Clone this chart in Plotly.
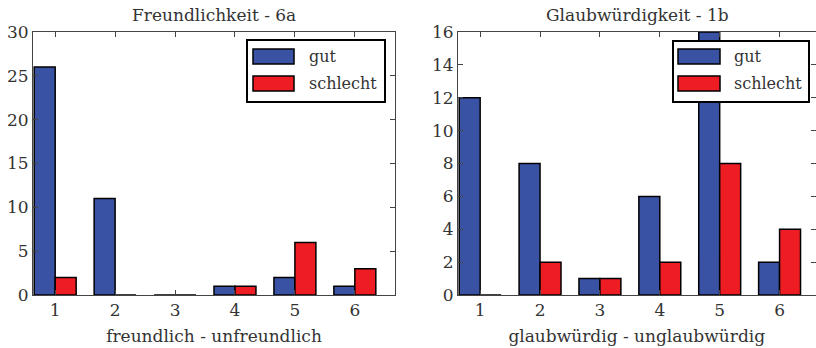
import plotly.graph_objects as go

# ---- data ----
categories = [1, 2, 3, 4, 5, 6]
freund_gut = [26, 11, 0, 1, 2, 1]
freund_schlecht = [2, 0, 0, 1, 6, 3]
glaub_gut = [12, 8, 1, 6, 16, 2]
glaub_schlecht = [0, 2, 1, 2, 8, 4]
series_names = ["gut", "schlecht"]
titles = ["Freundlichkeit - 6a", "Glaubwürdigkeit - 1b"]
xtitles = ["freundlich - unfreundlich", "glaubwürdig - unglaubwürdig"]
ytick_left = [0, 5, 10, 15, 20, 25, 30]
ytick_right = [0, 2, 4, 6, 8, 10, 12, 14, 16]

W, H = 816, 348
BLUE = "#3A52A4"
RED = "#EE1D24"
FONT = "DejaVu Serif"
FS = 17
FSL = 16
TXT = "#333333"
AX = "#444444"

fig = go.Figure()

def px(x):
    return x / W

def py(y):
    return 1 - y / H

bw = 0.35
panels = [
    (freund_gut, freund_schlecht, "x", "y"),
    (glaub_gut, glaub_schlecht, "x2", "y2"),
]
for g, s, xa, ya in panels:
    fig.add_trace(go.Bar(x=categories, y=g, name=series_names[0], offset=-bw, width=bw,
                         marker=dict(color=BLUE, line=dict(color="black", width=1.5)),
                         xaxis=xa, yaxis=ya, showlegend=False))
    fig.add_trace(go.Bar(x=categories, y=s, name=series_names[1], offset=0, width=bw,
                         marker=dict(color=RED, line=dict(color="black", width=1.5)),
                         xaxis=xa, yaxis=ya, showlegend=False))

ydom = [py(295), py(32)]
axcommon = dict(showgrid=False, zeroline=False, showline=True, linecolor=AX, linewidth=1,
                mirror="ticks", ticks="inside", ticklen=5, tickcolor=AX, automargin=False,
                tickfont=dict(family=FONT, size=FS, color=TXT))

fig.update_layout(
    width=W, height=H, margin=dict(l=0, r=0, t=0, b=0),
    plot_bgcolor="white", paper_bgcolor="white", barmode="overlay",
    font=dict(family=FONT, size=FS, color=TXT),
    xaxis=dict(domain=[px(33), px(395)], range=[0.63, 6.67], tickvals=categories,
               title=dict(text=xtitles[0], font=dict(family=FONT, size=FS, color=TXT), standoff=10),
               **axcommon),
    yaxis=dict(domain=ydom, range=[0, 30], tickvals=ytick_left, **axcommon),
    xaxis2=dict(domain=[px(458), px(815.5)], range=[0.63, 6.6], tickvals=categories, anchor="y2",
                title=dict(text=xtitles[1], font=dict(family=FONT, size=FS, color=TXT), standoff=10),
                **axcommon),
    yaxis2=dict(domain=ydom, range=[0, 16], tickvals=ytick_right, anchor="x2", **axcommon),
)

# subplot titles
for t, cx in zip(titles, [214, 637]):
    fig.add_annotation(text=t, x=px(cx), y=py(15), xref="paper", yref="paper",
                       showarrow=False, xanchor="center", yanchor="middle",
                       font=dict(family=FONT, size=FS, color=TXT))

# legends (drawn as boxes with swatches)
legends = [
    dict(box=(247, 40, 385, 102), sx=(253, 294), tx=307),
    dict(box=(673, 41, 809, 102), sx=(678, 720), tx=732),
]
for lg in legends:
    x0, y0, x1, y1 = lg["box"]
    fig.add_shape(type="rect", xref="paper", yref="paper", x0=px(x0), x1=px(x1), y0=py(y1), y1=py(y0),
                  fillcolor="white", line=dict(color="black", width=2), layer="above")
    for (ya, yb), col, name in zip([(49, 64), (76, 91)], [BLUE, RED], series_names):
        fig.add_shape(type="rect", xref="paper", yref="paper", x0=px(lg["sx"][0]), x1=px(lg["sx"][1]),
                      y0=py(yb), y1=py(ya), fillcolor=col, line=dict(color="black", width=1.5), layer="above")
        fig.add_annotation(text=name, x=px(lg["tx"]), y=py((ya + yb) / 2), xref="paper", yref="paper",
                           showarrow=False, xanchor="left", yanchor="middle",
                           font=dict(family=FONT, size=FSL, color=TXT))

fig.write_html("out.html")
